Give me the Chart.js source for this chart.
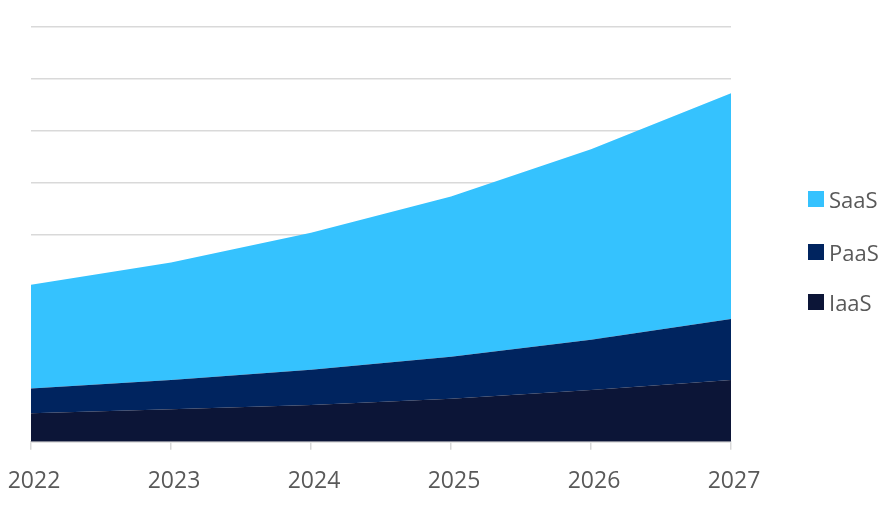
<!DOCTYPE html>
<html>
<head>
<meta charset="utf-8">
<script src="https://cdn.jsdelivr.net/npm/chart.js@4/dist/chart.umd.min.js"></script>
<style>
html,body{margin:0;padding:0;background:#fff;}
#wrap{position:relative;width:895px;height:513px;}
#legend{position:absolute;left:808px;top:0;font-family:'Open Sans','Noto Sans',sans-serif;font-size:22px;color:#595959;}
.item{position:absolute;left:0;height:26px;line-height:26px;display:flex;align-items:center;white-space:nowrap;}
.sw{width:16px;height:16px;margin-right:5px;flex:none;}
</style>
</head>
<body>
<div id="wrap"><canvas id="c" width="895" height="513"></canvas><div id="legend"></div></div>
<script>
const years = ['2022', '2023', '2024', '2025', '2026', '2027'];
const iaas = [0.55, 0.63, 0.71, 0.83, 1.00, 1.19];
const paas = [0.48, 0.56, 0.68, 0.81, 0.97, 1.18];
const saas = [2.00, 2.27, 2.64, 3.09, 3.67, 4.35];
const seriesNames = ['IaaS', 'PaaS', 'SaaS'];
const seriesColors = ['#0c1537', '#00245f', '#35c2fe'];

const FONT = "'Open Sans', 'Noto Sans', sans-serif";

const chart = new Chart(document.getElementById('c'), {
  type: 'line',
  data: {
    labels: years,
    datasets: [
      { label: seriesNames[0], data: iaas, backgroundColor: seriesColors[0], borderColor: seriesColors[0], fill: 'origin', borderWidth: 0, pointRadius: 0, tension: 0 },
      { label: seriesNames[1], data: paas, backgroundColor: seriesColors[1], borderColor: seriesColors[1], fill: '-1', borderWidth: 0, pointRadius: 0, tension: 0 },
      { label: seriesNames[2], data: saas, backgroundColor: seriesColors[2], borderColor: seriesColors[2], fill: '-1', borderWidth: 0, pointRadius: 0, tension: 0 }
    ]
  },
  options: {
    responsive: false,
    animation: false,
    layout: { padding: { top: 27, left: 31, right: 164, bottom: 0 } },
    plugins: {
      tooltip: { enabled: false },
      legend: { display: false }
    },
    scales: {
      x: {
        offset: false,
        grid: { drawOnChartArea: false, drawTicks: true, tickLength: 8, color: '#d9d9d9', lineWidth: 1.5 },
        border: { display: true, color: '#d9d9d9', width: 1.5 },
        ticks: { color: '#595959', font: { family: FONT, size: 23, lineHeight: 2.4 }, padding: 4, labelOffset: 3, maxRotation: 0 }
      },
      y: {
        stacked: true,
        min: 0, max: 8,
        ticks: { display: false, stepSize: 1 },
        grid: { color: '#d9d9d9', lineWidth: 1.5, drawTicks: false },
        border: { display: false }
      }
    }
  }
});

// HTML legend built from the chart's datasets (top-to-bottom: SaaS, PaaS, IaaS)
const legendCenters = [199, 252, 302];
const legendEl = document.getElementById('legend');
chart.data.datasets.slice().reverse().forEach((ds, i) => {
  const it = document.createElement('div');
  it.className = 'item';
  it.style.top = (legendCenters[i] - 13) + 'px';
  const sw = document.createElement('span');
  sw.className = 'sw';
  sw.style.background = ds.backgroundColor;
  const tx = document.createElement('span');
  tx.textContent = ds.label;
  it.appendChild(sw); it.appendChild(tx);
  legendEl.appendChild(it);
});
</script>
</body>
</html>
